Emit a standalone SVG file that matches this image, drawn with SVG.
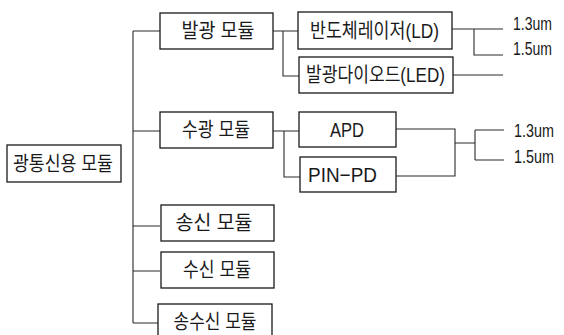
<svg xmlns="http://www.w3.org/2000/svg" width="564" height="335" viewBox="0 0 564 335">
<style>
.box{fill:#fff;stroke:#1a1a1a;stroke-width:1.3}
.ln{fill:none;stroke:#2a2a2a;stroke-width:1.1}
.t{font-family:"Liberation Sans","Noto Sans CJK KR",sans-serif;font-size:20px;fill:#1a1a1a;text-anchor:middle;dominant-baseline:central}
.l{font-size:21px}
.u{font-family:"Liberation Sans",sans-serif;font-size:18px;fill:#1a1a1a;dominant-baseline:central}
</style>
<rect width="564" height="335" fill="#fff"/>
<g id="connectors">
<path class="ln" d="M133,31V323M133,31H160M133,131H160M133,226H160M133,271H160M133,323H158"/>
<path class="ln" d="M273,31H298M283,31V76H299"/>
<path class="ln" d="M273,131H299M284,131V177H300"/>
<path class="ln" d="M452,29H503M474,29V55H503M453,75H503"/>
<path class="ln" d="M396,129H455V176H396M455,143H475M475,130V160M475,130H504M475,160H504"/>
</g>
<g id="root"><rect class="box" x="7" y="145" width="114" height="37"/><text class="t" x="63" y="164" textLength="100" lengthAdjust="spacingAndGlyphs">광통신용 모듈</text></g>
<g id="emit"><rect class="box" x="160" y="13" width="113" height="36"/><text class="t" x="218" y="31" textLength="73" lengthAdjust="spacingAndGlyphs">발광 모듈</text></g>
<g id="recv-opt"><rect class="box" x="160" y="112" width="113" height="36"/><text class="t" x="216" y="130" textLength="68" lengthAdjust="spacingAndGlyphs">수광 모듈</text></g>
<g id="tx"><rect class="box" x="161" y="205" width="113" height="36"/><text class="t" x="214" y="223" textLength="77" lengthAdjust="spacingAndGlyphs">송신 모듈</text></g>
<g id="rx"><rect class="box" x="161" y="252" width="113" height="36"/><text class="t" x="217" y="270" textLength="68" lengthAdjust="spacingAndGlyphs">수신 모듈</text></g>
<g id="trx"><rect class="box" x="158" y="304" width="114" height="40"/><text class="t" x="215" y="322" textLength="83" lengthAdjust="spacingAndGlyphs">송수신 모듈</text></g>
<g id="ld"><rect class="box" x="298" y="12" width="154" height="37"/><text class="t" x="374.5" y="30.5" textLength="129" lengthAdjust="spacingAndGlyphs">반도체레이저(LD)</text></g>
<g id="led"><rect class="box" x="299" y="57" width="154" height="36"/><text class="t" x="375.5" y="75" textLength="139" lengthAdjust="spacingAndGlyphs">발광다이오드(LED)</text></g>
<g id="apd"><rect class="box" x="299" y="112" width="97" height="35"/><text class="t l" x="347" y="129" textLength="34" lengthAdjust="spacingAndGlyphs">APD</text></g>
<g id="pinpd"><rect class="box" x="300" y="157" width="96" height="35"/><text class="t l" x="342.5" y="174.5" textLength="69" lengthAdjust="spacingAndGlyphs">PIN−PD</text></g>
<g id="wl">
<text class="u" x="513" y="24" textLength="39" lengthAdjust="spacingAndGlyphs">1.3um</text>
<text class="u" x="513" y="48.5" textLength="39" lengthAdjust="spacingAndGlyphs">1.5um</text>
<text class="u" x="514" y="130.5" textLength="40" lengthAdjust="spacingAndGlyphs">1.3um</text>
<text class="u" x="514" y="157" textLength="40" lengthAdjust="spacingAndGlyphs">1.5um</text>
</g>
</svg>
